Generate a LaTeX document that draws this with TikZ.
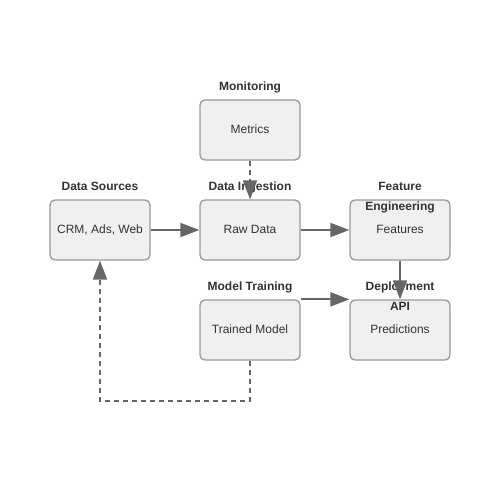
\documentclass[tikz,border=0pt]{standalone}
\usepackage{fontspec}
\setmainfont{Liberation Sans}
\usetikzlibrary{arrows.meta}
\definecolor{boxfill}{HTML}{F0F0F0}
\definecolor{boxline}{HTML}{999999}
\definecolor{flow}{HTML}{666666}
\definecolor{ink}{HTML}{333333}
\begin{document}
\begin{tikzpicture}[x=1pt, y=-1pt,
    stage/.style={draw=boxline, fill=boxfill, line width=1.3pt, rounded corners=5pt,
      minimum width=100pt, minimum height=60pt, inner sep=0pt, text=ink,
      text height=8.6pt, text depth=2.4pt, font=\fontsize{12}{14}\selectfont},
    title/.style={anchor=north, inner sep=0pt, align=center, text=ink,
      font=\fontsize{12}{20}\selectfont\bfseries},
    flowline/.style={draw=flow, line width=2pt, -{Triangle[length=19pt,width=14pt]}},
    feedback/.style={flowline, dash pattern=on 5pt off 4pt}]
    \useasboundingbox (0,0) rectangle (500,500);
    \foreach \n/\x/\y/\t in {src/100/230/{CRM, Ads, Web}, raw/250/230/{Raw Data},
        feat/400/230/Features, mon/250/130/Metrics, train/250/330/{Trained Model},
        pred/400/330/Predictions}
        \node[stage] (\n) at (\x,\y) {\t};
    \foreach \n/\t in {src/{Data Sources}, raw/{Data Ingestion}, feat/{Feature\\Engineering},
        mon/Monitoring, train/{Model Training}, pred/{Deployment\\API}}
        \node[title] (\n-title) at ([yshift=17.5pt]\n.north) {\t};
    \draw[flowline] (src) -- (raw);
    \draw[flowline] (raw) -- (feat);
    \draw[feedback] (mon) -- (raw);
    \draw[flowline] (feat) -- (pred);
    \draw[flowline] (train.north east) -- (pred.north west);
    \draw[feedback] (train.south) -- ++(0,40) -| (src.south);
\end{tikzpicture}
\end{document}
